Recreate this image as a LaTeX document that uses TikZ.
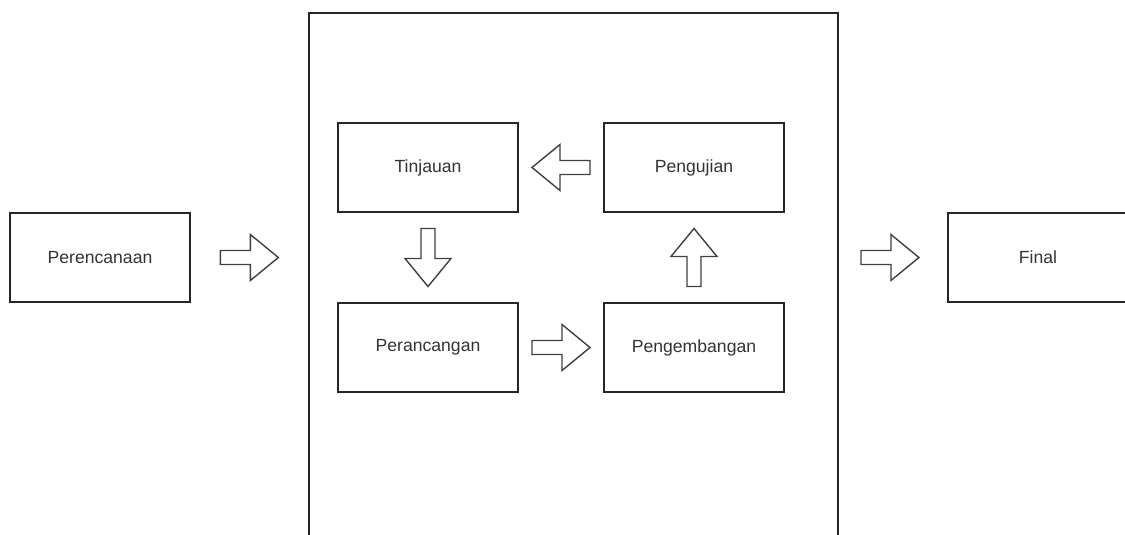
\documentclass[tikz,border=0pt]{standalone}
\usepackage{fontspec}
\setmainfont{Liberation Sans}
\usetikzlibrary{calc}
\begin{document}
\begin{tikzpicture}[x=1pt,y=-1pt,
  box/.style={draw=black!85, line width=1.4pt, minimum width=180pt, minimum height=89pt, inner sep=0pt, text=black!80, font=\fontsize{17.6}{20}\selectfont},
  arrowline/.style={draw=black!75, line width=1.4pt, line join=miter, fill=white},
  blockarrow/.pic={\path[arrowline] (-29,-7) -- (1,-7) -- (1,-23) -- (29,0) -- (1,23) -- (1,7) -- (-29,7) -- cycle;}
]
\useasboundingbox (0,0) rectangle (1125,535);
\clip (0,0) rectangle (1125,535);
\fill[white] (0,0) rectangle (1125,535);
% outer container
\node[draw=black!85, line width=1.6pt, minimum width=529pt, minimum height=560pt, inner sep=0pt, anchor=north west] (phase) at (308,12) {};
% boxes
\node[box] (per) at (100,257.5) {Perencanaan};
\node[box] (fin) at (1038,257.5) {Final};
\node[box] (tin) at (428,167.5) {Tinjauan};
\node[box] (uji) at (694,167.5) {Pengujian};
\node[box] (ran) at (428,347.5) {Perancangan};
\node[box] (kem) at (694,347.5) {Pengembangan};
% block arrows
\pic at ($(per.east)!0.5!(phase.west |- per.east)$) {blockarrow};
\pic[rotate=180] at ($(tin.east)!0.5!(uji.west)$) {blockarrow};
\pic[rotate=-90] at ($(tin.south)!0.5!(ran.north)$) {blockarrow};
\pic at ($(ran.east)!0.5!(kem.west)$) {blockarrow};
\pic[rotate=90] at ($(kem.north)!0.5!(uji.south)$) {blockarrow};
\pic at ($(phase.east |- fin.west)!0.5!(fin.west)+(-3,0)$) {blockarrow};
\end{tikzpicture}
\end{document}
